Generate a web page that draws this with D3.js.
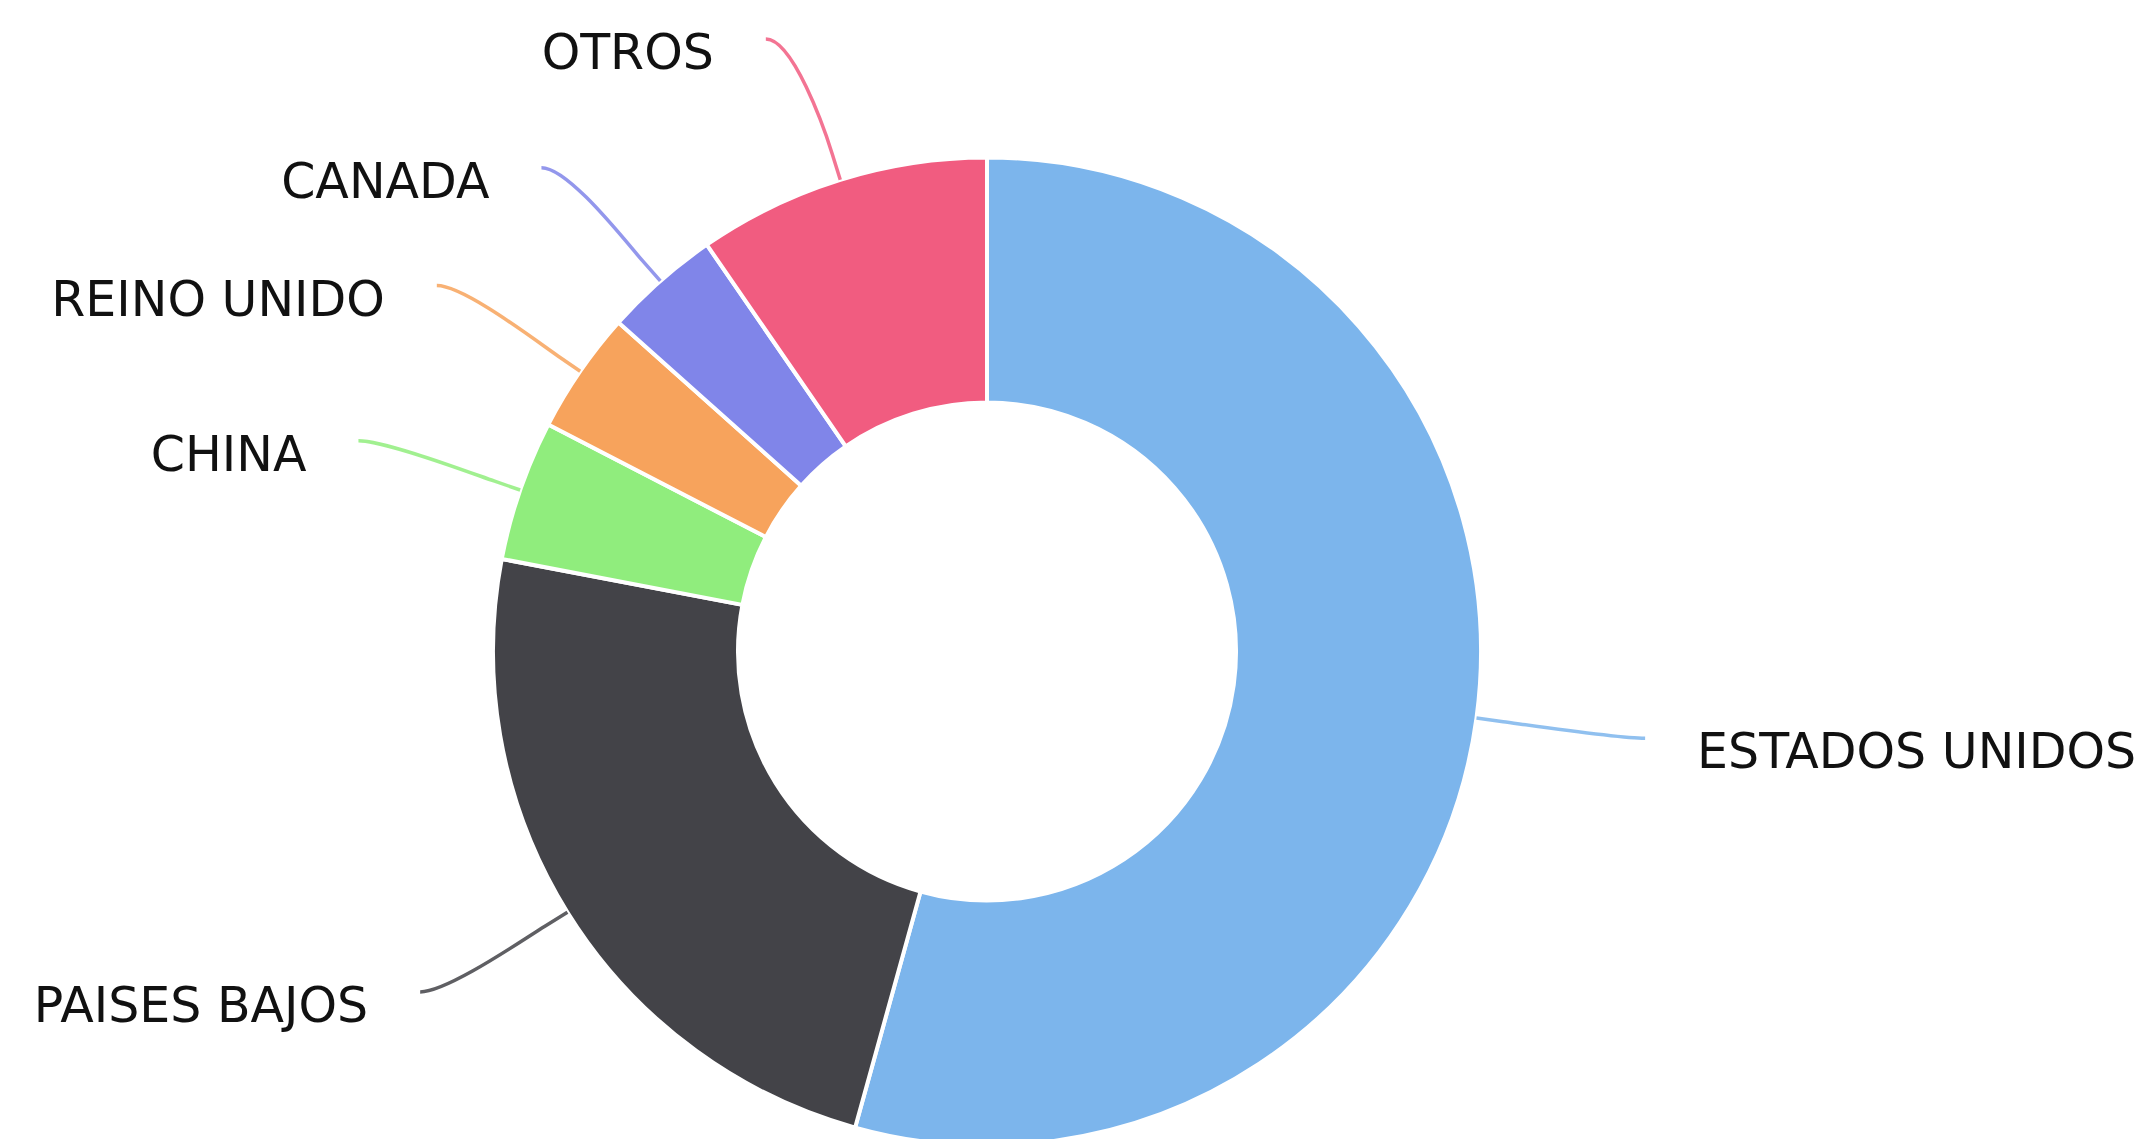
<!DOCTYPE html>
<html>
<head>
<meta charset="utf-8">
<style>
    html, body { margin: 0; padding: 0; background: #fff; overflow: hidden; }
    svg { display: block; }
    .label { font-family: "DejaVu Sans", Verdana, sans-serif; font-size: 49px; fill: #111; }
</style>
<script src="https://cdn.jsdelivr.net/npm/d3@7/dist/d3.min.js"></script>
</head>
<body>
<svg id="chart"></svg>
<script>
var categories = ['ESTADOS UNIDOS', 'PAISES BAJOS', 'CHINA', 'REINO UNIDO', 'CANADA', 'OTROS'];
var values     = [54.3, 23.7, 4.6, 4.0, 3.8, 9.6];
var colors     = ['#7cb5ec', '#434348', '#90ed7d', '#f7a35c', '#8085e9', '#f15c80'];

(function (d3) {
    'use strict';

    var width  = 2141,
        height = 1139,
        cx     = 987,
        cy     = 651.5,
        outerR = 494,
        innerR = 249,
        labelR      = 645,  // radius of the circle the labels sit on
        padding     = 19,   // extra horizontal push of the connector start
        breakOffset = 27,   // where the connector stops curving
        textGap     = 52,   // space between connector start and text
        minLabelY   = 39;   // keeps the top label inside the picture

    var data = categories.map(function (name, i) {
        return { name: name, value: values[i], color: colors[i] };
    });

    var svg = d3.select('#chart')
        .attr('width', width)
        .attr('height', height);

    var pie = d3.pie()
        .sort(null)
        .value(function (d) { return d.value; });

    var arc = d3.arc()
        .innerRadius(innerR)
        .outerRadius(outerR);

    var arcs = pie(data);

    var g = svg.append('g').attr('transform', 'translate(' + cx + ',' + cy + ')');

    g.selectAll('path.slice')
        .data(arcs)
        .enter().append('path')
            .attr('class', 'slice')
            .attr('d', arc)
            .attr('fill', function (d) { return d.data.color; })
            .attr('stroke', '#fff')
            .attr('stroke-width', 4)
            .attr('stroke-linejoin', 'round');

    function polar(angle, r) {
        return [Math.sin(angle) * r, -Math.cos(angle) * r];
    }

    arcs.forEach(function (d) {
        var mid      = (d.startAngle + d.endAngle) / 2,
            left     = Math.sin(mid) < 0,
            sign     = left ? -1 : 1,
            touching = polar(mid, outerR),
            breakAt  = polar(mid, outerR + breakOffset),
            ly       = Math.max(-Math.cos(mid) * labelR, minLabelY - cy),
            lx       = sign * (Math.sqrt(Math.max(labelR * labelR - ly * ly, 0)) + padding),
            ctrl2, path;

        ctrl2 = [2 * breakAt[0] - touching[0], 2 * breakAt[1] - touching[1]];

        path = d3.path();
        path.moveTo(lx, ly);
        path.bezierCurveTo(lx - sign * 27, ly, ctrl2[0], ctrl2[1], breakAt[0], breakAt[1]);
        path.lineTo(touching[0], touching[1]);

        g.append('path')
            .attr('d', path.toString())
            .attr('fill', 'none')
            .attr('stroke', d.data.color)
            .attr('stroke-width', 3.5)
            .attr('stroke-opacity', 0.85);

        g.append('text')
            .attr('class', 'label')
            .attr('x', lx + sign * textGap)
            .attr('y', ly + 30)
            .attr('text-anchor', left ? 'end' : 'start')
            .text(d.data.name);
    });
}(window.d3));
</script>
</body>
</html>
